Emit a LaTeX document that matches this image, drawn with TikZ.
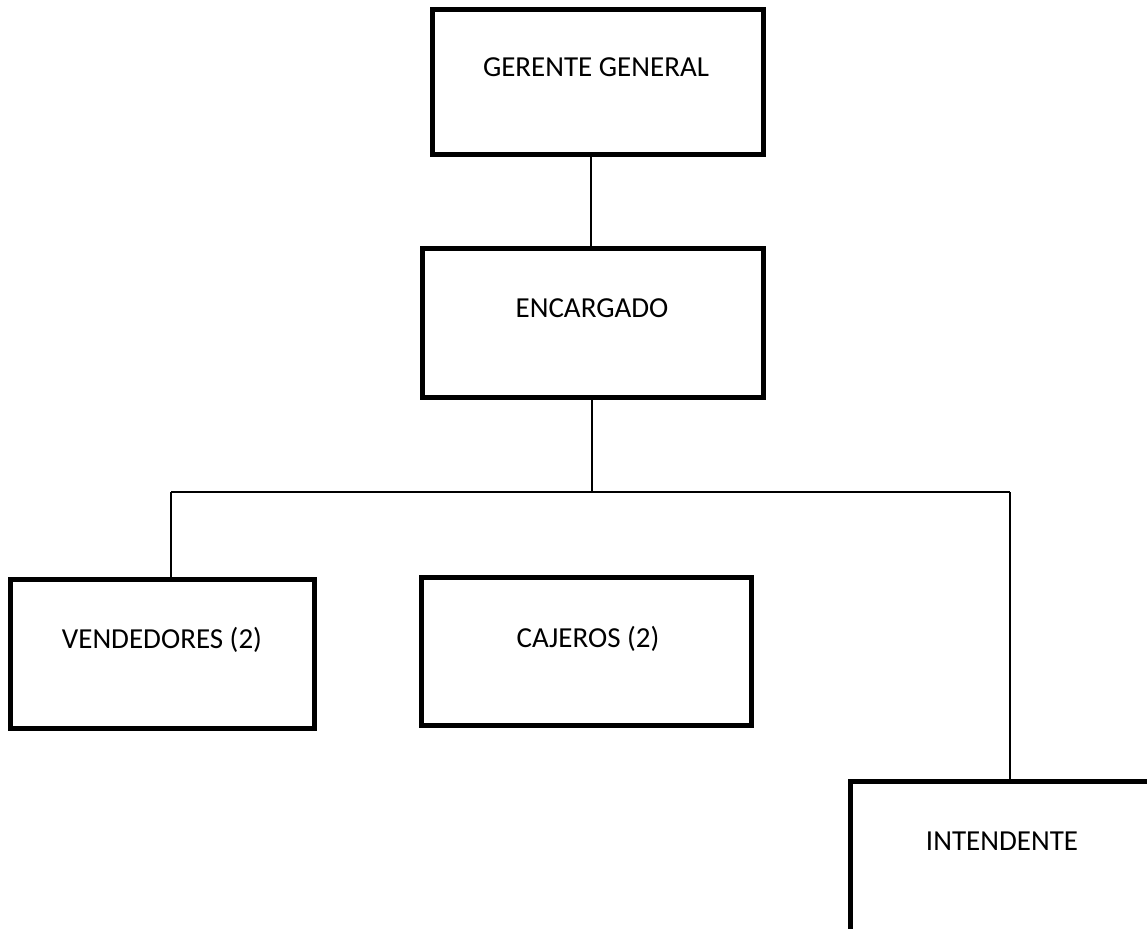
\documentclass[tikz,border=0pt]{standalone}
\usepackage{fontspec}
\setmainfont{Carlito}
\begin{document}
\begin{tikzpicture}[x=1pt,y=-1pt,
  box/.style={draw=black,line width=5pt,rectangle,inner sep=0pt,outer sep=0pt},
  lbl/.style={font=\fontsize{29}{35}\selectfont,inner sep=0pt,anchor=base},
  conn/.style={draw=black,line width=1.6pt}]
\useasboundingbox (0,0) rectangle (1147,928);
\clip (0,0) rectangle (1147,928);
\node[box,minimum width=330.5pt,minimum height=145pt] (gg) at (597.75,82) {};
\node[lbl] at (596,77) {GERENTE GENERAL};
\node[box,minimum width=340.5pt,minimum height=149pt] (enc) at (592.75,323) {};
\node[lbl] at (592,317) {ENCARGADO};
\node[box,minimum width=304pt,minimum height=149pt] (ven) at (162.5,654) {};
\node[lbl] at (162,648) {VENDEDORES (2)};
\node[box,minimum width=329.5pt,minimum height=148pt] (caj) at (586.25,651.5) {};
\node[lbl] at (588,647) {CAJEROS (2)};
\node[box,minimum width=320pt,minimum height=170pt] (int) at (1010.5,866.5) {};
\node[lbl] at (1002,850) {INTENDENTE};
\coordinate (c1) at (591,0);
\coordinate (c2) at (592,492);
\coordinate (bl) at (171,492);
\coordinate (br) at (1010,492);
\draw[conn] (gg.south -| c1) -- (enc.north -| c1);
\draw[conn] (enc.south -| c2) -- (c2);
\draw[conn] (bl) -- (br);
\draw[conn] (bl) -- (ven.north -| bl);
\draw[conn] (br) -- (int.north -| br);
\end{tikzpicture}
\end{document}
